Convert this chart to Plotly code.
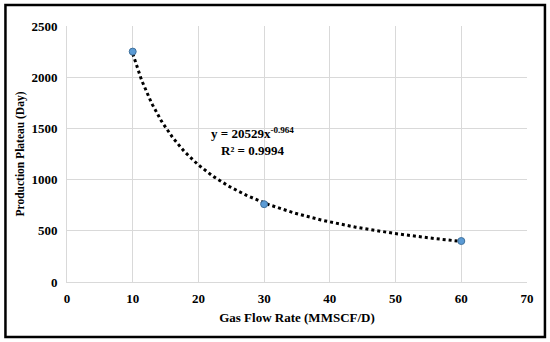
import numpy as np
import plotly.graph_objects as go

gas_flow = [10, 30, 60]
plateau_days = [2250, 760, 400]
fit_a = 20529
fit_b = -0.964
x_ticks = [0, 10, 20, 30, 40, 50, 60, 70]
y_ticks = [0, 500, 1000, 1500, 2000, 2500]

trend_x = np.linspace(min(gas_flow), max(gas_flow), 200)
trend_y = fit_a * trend_x ** fit_b

font_family = "Liberation Serif, Times New Roman, serif"

fig = go.Figure()
fig.add_trace(go.Scatter(
    x=trend_x, y=trend_y, mode="lines",
    line=dict(color="black", width=3, dash="dot"),
    hoverinfo="skip", showlegend=False,
))
fig.add_trace(go.Scatter(
    x=gas_flow, y=plateau_days, mode="markers",
    marker=dict(color="#5B9BD5", size=7, line=dict(color="#41719C", width=1)),
    showlegend=False,
))

fig.add_annotation(
    x=28.2, y=1455, xref="x", yref="y",
    text="<b>y = 20529x<sup>-0.964</sup></b>", showarrow=False,
    font=dict(family=font_family, size=13, color="black"),
)
fig.add_annotation(
    x=28.2, y=1285, xref="x", yref="y",
    text="<b>R² = 0.9994</b>", showarrow=False,
    font=dict(family=font_family, size=13, color="black"),
)

fig.add_shape(
    type="rect", xref="paper", yref="paper",
    x0=-0.1338, x1=1.039, y0=-0.215, y1=1.082,
    line=dict(color="black", width=2.5), fillcolor="rgba(0,0,0,0)",
)

fig.update_layout(
    width=550, height=342,
    margin=dict(l=67, r=23, t=26, b=60),
    paper_bgcolor="white", plot_bgcolor="white",
    font=dict(family=font_family, size=13, color="black"),
    xaxis=dict(
        range=[0, 70], tickvals=x_ticks, showgrid=True, gridcolor="#d9d9d9",
        gridwidth=1, zeroline=False, showline=True, linecolor="#d9d9d9",
        tickfont=dict(family=font_family, size=13, color="black", weight="bold"),
        title=dict(text="<b>Gas Flow Rate (MMSCF/D)</b>",
                   font=dict(family=font_family, size=13), standoff=8),
        ticklabelstandoff=4,
    ),
    yaxis=dict(
        range=[0, 2500], tickvals=y_ticks, showgrid=True, gridcolor="#d9d9d9",
        gridwidth=1, zeroline=False, showline=True, linecolor="#d9d9d9",
        tickfont=dict(family=font_family, size=13, color="black", weight="bold"),
        title=dict(text="<b>Production Plateau (Day)</b>",
                   font=dict(family=font_family, size=11.5), standoff=4),
        ticklabelstandoff=6,
    ),
)

fig.write_html("out.html", config={"displayModeBar": False},
               post_script="document.body.style.margin='0';")
